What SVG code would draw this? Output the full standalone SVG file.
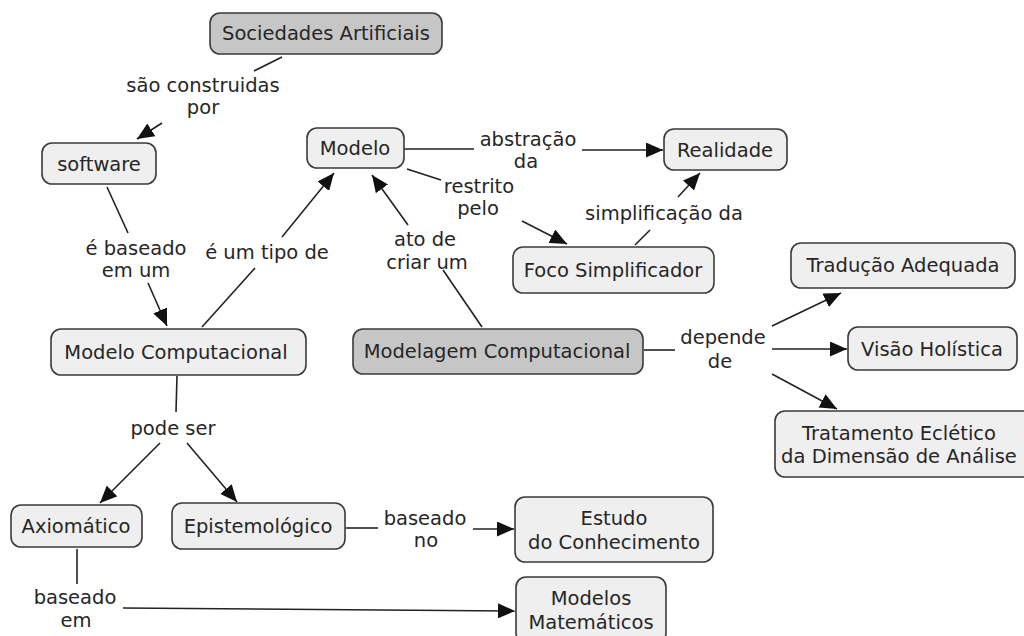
<svg xmlns="http://www.w3.org/2000/svg" width="1024" height="636" viewBox="0 0 1024 636">
  <style>
    .node rect { fill: #efefef; stroke: #3a3a3a; stroke-width: 1.6; }
    .node.main rect { fill: #c6c6c6; }
    text { font-family: "DejaVu Sans", Verdana, sans-serif; font-size: 19.5px; fill: #262626; text-anchor: middle; dominant-baseline: central; }
    .links line, .links polyline { stroke: #222; stroke-width: 1.6; fill: none; }
    .links .arrow { marker-end: url(#head); }
  </style>
  <defs>
    <marker id="head" markerUnits="userSpaceOnUse" markerWidth="17" markerHeight="15" refX="17" refY="7.5" orient="auto">
      <path d="M0,0 L17,7.5 L0,15 z" fill="#111"/>
    </marker>
  </defs>
  <rect width="1024" height="636" fill="#fff"/>

  <!-- connectors and their linking phrases -->
  <g id="connectors" class="links">
    <line x1="282" y1="57" x2="254" y2="71"/>
    <text x="203" y="85">são construidas</text>
    <text x="203" y="107">por</text>
    <line class="arrow" x1="162" y1="123" x2="137" y2="139"/>

    <line x1="107" y1="187" x2="128" y2="233"/>
    <text x="136" y="248">é baseado</text>
    <text x="136" y="270">em um</text>
    <line class="arrow" x1="148" y1="283" x2="167" y2="326"/>

    <line x1="202" y1="327" x2="255" y2="268"/>
    <text x="267" y="252">é um tipo de</text>
    <line class="arrow" x1="282" y1="237" x2="334" y2="173"/>

    <line x1="482" y1="327" x2="443" y2="270"/>
    <text x="425" y="239">ato de</text>
    <text x="427" y="262">criar um</text>
    <line class="arrow" x1="408" y1="225" x2="372" y2="175"/>

    <line x1="404" y1="149" x2="474" y2="149"/>
    <text x="528" y="139">abstração</text>
    <text x="526" y="161">da</text>
    <line class="arrow" x1="582" y1="150" x2="663" y2="150"/>

    <line x1="407" y1="169" x2="441" y2="180"/>
    <text x="479" y="186">restrito</text>
    <text x="478" y="208">pelo</text>
    <line class="arrow" x1="522" y1="221" x2="567" y2="244"/>

    <line x1="635" y1="245" x2="650" y2="230"/>
    <text x="664" y="213">simplificação da</text>
    <line class="arrow" x1="678" y1="197" x2="700" y2="173"/>

    <line x1="644" y1="350" x2="675" y2="350"/>
    <text x="723" y="337">depende</text>
    <text x="720" y="361">de</text>
    <line class="arrow" x1="772" y1="326" x2="841" y2="293"/>
    <line class="arrow" x1="772" y1="349" x2="847" y2="349"/>
    <line class="arrow" x1="772" y1="374" x2="837" y2="409"/>

    <line x1="177" y1="376" x2="176" y2="412"/>
    <text x="173" y="428">pode ser</text>
    <line class="arrow" x1="160" y1="443" x2="100" y2="503"/>
    <line class="arrow" x1="187" y1="443" x2="237" y2="502"/>

    <line x1="346" y1="528" x2="378" y2="528"/>
    <text x="425" y="518">baseado</text>
    <text x="426" y="540">no</text>
    <line class="arrow" x1="473" y1="529" x2="514" y2="529"/>

    <line x1="77" y1="549" x2="77" y2="584"/>
    <text x="75" y="597">baseado</text>
    <text x="76" y="620">em</text>
    <line class="arrow" x1="123" y1="608" x2="515" y2="611"/>
  </g>

  <!-- concept nodes -->
  <g id="sociedades" class="node main">
    <rect x="210" y="13" width="232" height="41" rx="10"/>
    <text x="326" y="33">Sociedades Artificiais</text>
  </g>
  <g id="software" class="node">
    <rect x="42" y="143" width="114" height="41" rx="10"/>
    <text x="99" y="164">software</text>
  </g>
  <g id="modelo" class="node">
    <rect x="307" y="128" width="97" height="40" rx="10"/>
    <text x="355" y="148">Modelo</text>
  </g>
  <g id="realidade" class="node">
    <rect x="664" y="129" width="123" height="41" rx="10"/>
    <text x="725" y="150">Realidade</text>
  </g>
  <g id="foco" class="node">
    <rect x="513" y="247" width="201" height="46" rx="10"/>
    <text x="613" y="270">Foco Simplificador</text>
  </g>
  <g id="traducao" class="node">
    <rect x="791" y="243" width="224" height="45" rx="10"/>
    <text x="903" y="265">Tradução Adequada</text>
  </g>
  <g id="modelo-computacional" class="node">
    <rect x="51" y="329" width="255" height="46" rx="10"/>
    <text x="176" y="352">Modelo Computacional</text>
  </g>
  <g id="modelagem" class="node main">
    <rect x="353" y="329" width="290" height="45" rx="10"/>
    <text x="497" y="351">Modelagem Computacional</text>
  </g>
  <g id="visao" class="node">
    <rect x="848" y="327" width="169" height="43" rx="10"/>
    <text x="932" y="349">Visão Holística</text>
  </g>
  <g id="tratamento" class="node">
    <rect x="775" y="411" width="258" height="66" rx="10"/>
    <text x="899" y="433">Tratamento Eclético</text>
    <text x="899" y="456">da Dimensão de Análise</text>
  </g>
  <g id="axiomatico" class="node">
    <rect x="11" y="505" width="131" height="42" rx="10"/>
    <text x="76" y="526">Axiomático</text>
  </g>
  <g id="epistemologico" class="node">
    <rect x="172" y="503" width="173" height="46" rx="10"/>
    <text x="258" y="526">Epistemológico</text>
  </g>
  <g id="estudo" class="node">
    <rect x="515" y="497" width="198" height="65" rx="10"/>
    <text x="614" y="518">Estudo</text>
    <text x="614" y="542">do Conhecimento</text>
  </g>
  <g id="modelos-matematicos" class="node">
    <rect x="516" y="577" width="150" height="66" rx="10"/>
    <text x="591" y="598">Modelos</text>
    <text x="591" y="622">Matemáticos</text>
  </g>
</svg>
